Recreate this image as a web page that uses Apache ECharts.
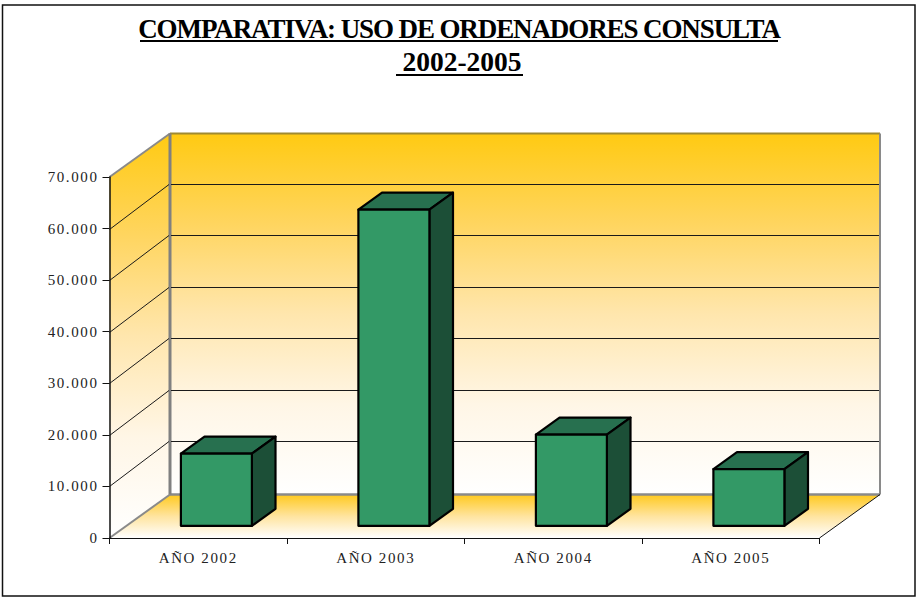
<!DOCTYPE html>
<html>
<head>
<meta charset="utf-8">
<style>
  html, body { margin: 0; padding: 0; background: #fff; }
  #chart { width: 916px; height: 597px; }
  #chart text { letter-spacing: 1.6px; }
  #chart text[style*="27px"] { letter-spacing: -1.1px; }
  #chart text[style*="27.5px"] { letter-spacing: 0; }
</style>
<script src="https://cdn.jsdelivr.net/npm/echarts@6/dist/echarts.min.js"></script>
</head>
<body>
<div id="chart"></div>
<script>
const titleLine1 = 'COMPARATIVA: USO DE ORDENADORES CONSULTA'
const titleLine2 = '2002-2005'
const categories = ['AÑO 2002', 'AÑO 2003', 'AÑO 2004', 'AÑO 2005']
const usoValues = [14000, 61300, 17700, 11000]
const yTicks = [0, 10000, 20000, 30000, 40000, 50000, 60000, 70000]

// depth of the fake 3d box, in pixels
const depthX = 60.5
const depthY = -43.5
const gridDepthY = -45
const barFrontX = 0.3
const barFrontY = 0.28
const barDepth = 0.39
const serif = '"Liberation Serif", "Times New Roman", serif'

function wallGradient (stops, x2, y2) {
  return new echarts.graphic.LinearGradient(0, 0, x2, y2, stops)
}

const wallStops = [
  { offset: 0, color: '#ffca12' },
  { offset: 0.25, color: '#ffd55f' },
  { offset: 0.5, color: '#ffe6ad' },
  { offset: 0.75, color: '#fff6e6' },
  { offset: 1, color: '#ffffff' }
]
const floorStops = [
  { offset: 0, color: '#ffc91e' },
  { offset: 0.5, color: '#ffe49f' },
  { offset: 1, color: '#ffffff' }
]

function renderWalls (params, api) {
  const g = params.coordSys
  const y0 = api.coord([0, yTicks[0]])[1]
  const yTop = api.coord([0, yTicks[yTicks.length - 1]])[1]
  const left = g.x
  const right = g.x + g.width
  const edge = { stroke: '#8a8a8a', lineWidth: 2 }
  return {
    type: 'group',
    children: [
      {
        type: 'polygon',
        shape: { points: [[left + depthX, yTop + depthY], [right + depthX, yTop + depthY], [right + depthX, y0 + depthY], [left + depthX, y0 + depthY]] },
        style: { fill: wallGradient(wallStops, 0, 1) }
      },
      {
        type: 'polygon',
        shape: { points: [[left, yTop], [left + depthX, yTop + depthY], [left + depthX, y0 + depthY], [left, y0]] },
        style: { fill: wallGradient(wallStops, 0, 1) }
      },
      {
        type: 'polygon',
        shape: { points: [[left, y0], [left + depthX, y0 + depthY], [right + depthX, y0 + depthY], [right, y0]] },
        style: { fill: wallGradient(floorStops, 0, 1) }
      },
      { type: 'line', shape: { x1: left, y1: yTop, x2: left + depthX, y2: yTop + depthY }, style: edge },
      { type: 'line', shape: { x1: left, y1: y0, x2: left + depthX, y2: y0 + depthY }, style: edge },
      { type: 'line', shape: { x1: left + depthX, y1: yTop + depthY, x2: right + depthX, y2: yTop + depthY }, style: { stroke: '#a08a30', lineWidth: 2 } },
      { type: 'line', shape: { x1: right + depthX, y1: yTop + depthY, x2: right + depthX, y2: y0 + depthY }, style: edge },
      { type: 'line', shape: { x1: left + depthX, y1: y0 + depthY, x2: right + depthX, y2: y0 + depthY }, style: { stroke: '#8a8a8a', lineWidth: 2.5 } },
      { type: 'line', shape: { x1: left + depthX, y1: yTop + depthY, x2: left + depthX, y2: y0 + depthY }, style: { stroke: '#808080', lineWidth: 3 } },
      { type: 'line', shape: { x1: right, y1: y0, x2: right + depthX, y2: y0 + depthY }, style: { stroke: '#111', lineWidth: 1 } }
    ]
  }
}

function renderGridLine (params, api) {
  const g = params.coordSys
  const y = Math.round(api.coord([0, api.value(0)])[1]) + 0.5
  const style = { stroke: '#1a1a1a', lineWidth: 1 }
  return {
    type: 'group',
    children: [
      { type: 'line', shape: { x1: g.x, y1: y, x2: g.x + depthX - 1, y2: y + gridDepthY }, style: style },
      { type: 'line', shape: { x1: g.x + depthX + 1, y1: y + gridDepthY, x2: g.x + g.width + depthX - 1, y2: y + gridDepthY }, style: style }
    ]
  }
}

function renderBar (params, api) {
  const idx = api.value(0)
  const base = api.coord([idx, 0])
  const top = api.coord([idx, api.value(1)])
  const band = api.size([1, 0])[0]
  const halfW = band * 0.2
  const fx = depthX * barFrontX
  const fy = depthY * barFrontY
  const bx = depthX * barDepth
  const by = depthY * barDepth
  const x1 = base[0] - halfW + fx
  const x2 = base[0] + halfW + fx
  const yb = base[1] + fy
  const yt = top[1] + fy
  const line = { stroke: '#000', lineWidth: 2.2, lineJoin: 'round' }
  return {
    type: 'group',
    children: [
      {
        type: 'polygon',
        shape: { points: [[x1, yt], [x1 + bx, yt + by], [x2 + bx, yt + by], [x2, yt]] },
        style: Object.assign({ fill: '#27704f' }, line)
      },
      {
        type: 'polygon',
        shape: { points: [[x2, yt], [x2 + bx, yt + by], [x2 + bx, yb + by], [x2, yb]] },
        style: Object.assign({ fill: '#1c4f37' }, line)
      },
      {
        type: 'polygon',
        shape: { points: [[x1, yt], [x2, yt], [x2, yb], [x1, yb]] },
        style: Object.assign({ fill: '#339966' }, line)
      }
    ]
  }
}

const option = {
  animation: false,
  backgroundColor: '#fff',
  title: [
    {
      text: titleLine1,
      left: 459,
      top: 15,
      padding: 0,
      textAlign: 'center',
      textStyle: { fontFamily: serif, fontWeight: 'bold', fontSize: 27, color: '#000' }
    },
    {
      text: titleLine2,
      left: 462,
      top: 47,
      padding: 0,
      textAlign: 'center',
      textStyle: { fontFamily: serif, fontWeight: 'bold', fontSize: 27.5, color: '#000' }
    }
  ],
  grid: { left: 109.5, right: 96.5, top: 177, bottom: 59 },
  xAxis: {
    type: 'category',
    data: categories,
    z: 5,
    axisLine: { lineStyle: { color: '#111', width: 1 } },
    axisTick: { show: true, alignWithLabel: false, length: 6, lineStyle: { color: '#111' } },
    axisLabel: { color: '#222', fontFamily: serif, fontSize: 15, margin: 12 }
  },
  yAxis: {
    type: 'value',
    min: 0,
    max: 70000,
    interval: 10000,
    z: 5,
    axisLine: { show: true, lineStyle: { color: '#111', width: 1.5 } },
    axisTick: { show: true, length: 7, lineStyle: { color: '#111' } },
    splitLine: { show: false },
    axisLabel: {
      color: '#222',
      fontFamily: serif,
      fontSize: 15,
      margin: 11,
      formatter: function (v) {
        return String(v).replace(/\B(?=(\d{3})+$)/g, '.')
      }
    }
  },
  series: [
    { type: 'custom', silent: true, renderItem: renderWalls, data: [[0]] },
    { type: 'custom', silent: true, renderItem: renderGridLine, data: yTicks.slice(1, -1).map(function (v) { return [v] }), encode: { y: 0 } },
    { type: 'custom', name: 'Uso', renderItem: renderBar, data: usoValues.map(function (v, i) { return [i, v] }), encode: { x: 0, y: 1 } }
  ],
  graphic: [
    { type: 'rect', shape: { x: 2.5, y: 5, width: 912.5, height: 591 }, style: { fill: 'none', stroke: '#111', lineWidth: 1.5 }, z: 10, silent: true },
    { type: 'line', shape: { x1: 140, y1: 41, x2: 778, y2: 41 }, style: { stroke: '#000', lineWidth: 2 }, z: 10, silent: true },
    { type: 'line', shape: { x1: 396, y1: 75, x2: 523, y2: 75 }, style: { stroke: '#000', lineWidth: 2 }, z: 10, silent: true }
  ]
}

const chart = echarts.init(document.getElementById('chart'), null, { renderer: 'svg' })
chart.setOption(option)
</script>
</body>
</html>
